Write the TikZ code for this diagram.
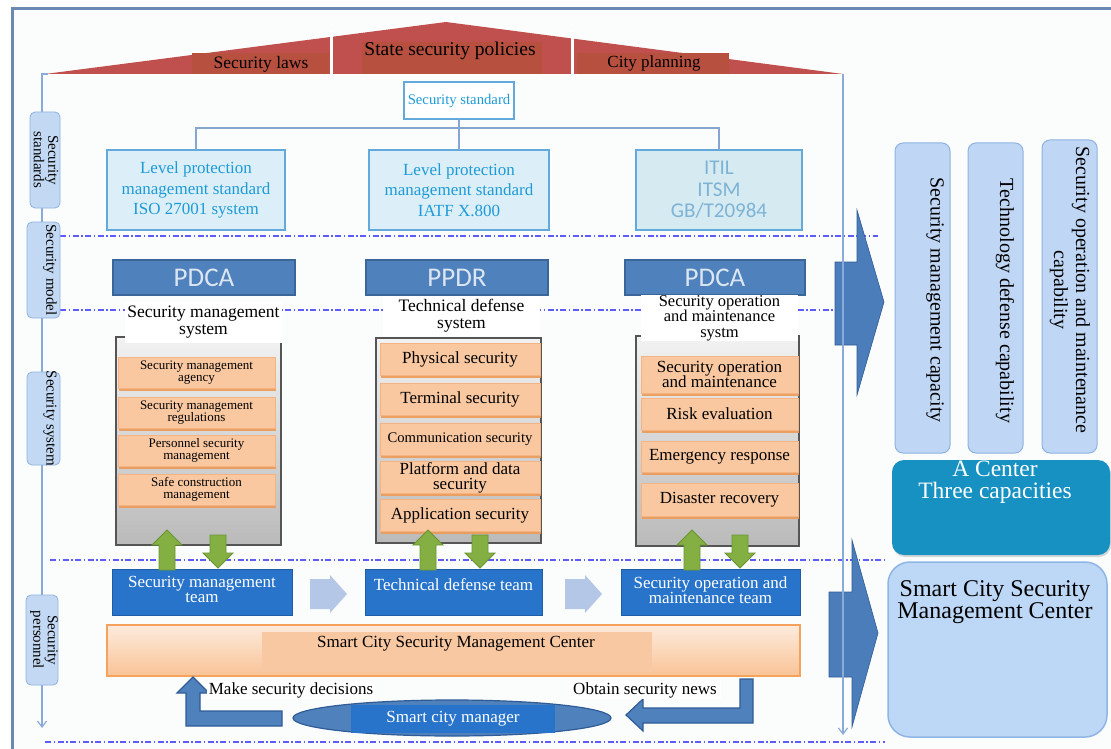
\documentclass[tikz,border=0pt]{standalone}
\usepackage{fontspec}
\setmainfont{Liberation Serif}
\newfontfamily\carlito{Carlito}
\usetikzlibrary{shapes.geometric,shadows,arrows.meta}
\newcommand\fsz[2]{\fontsize{#1}{#2}\selectfont}

\definecolor{pagebg}{HTML}{FBFCFC}
\definecolor{frameblue}{HTML}{6C89B2}
\definecolor{roofred}{HTML}{C0504D}
\definecolor{rooflbl}{HTML}{B8503F}
\definecolor{axisblue}{HTML}{8AAAD8}
\definecolor{tabblue}{HTML}{C3D9F3}
\definecolor{tabedge}{HTML}{8EB3E0}
\definecolor{dashblue}{HTML}{5D5DF5}
\definecolor{treeblue}{HTML}{86A5D0}
\definecolor{stdtext}{HTML}{1E9BD7}
\definecolor{stdfill}{HTML}{DCEFF9}
\definecolor{stdedge}{HTML}{63A9DB}
\definecolor{stdfillb}{HTML}{D6EAF2}
\definecolor{stdtextb}{HTML}{7DB3D5}
\definecolor{modelblue}{HTML}{4F81BD}
\definecolor{modeledge}{HTML}{3A6699}
\definecolor{modeltext}{HTML}{DCE6F2}
\definecolor{graybd}{HTML}{555555}
\definecolor{grayhi}{HTML}{F2F2F2}
\definecolor{graylo}{HTML}{BABABA}
\definecolor{peach}{HTML}{F9C8A1}
\definecolor{peachedge}{HTML}{F4B382}
\definecolor{peachshadow}{HTML}{EE9A55}
\definecolor{arrgreen}{HTML}{84B043}
\definecolor{arrgreenedge}{HTML}{6A9432}
\definecolor{teamblue}{HTML}{2874CB}
\definecolor{teamedge}{HTML}{1E5DA6}
\definecolor{chev}{HTML}{B4C7E6}
\definecolor{barhi}{HTML}{FDEBDD}
\definecolor{barlo}{HTML}{F9C396}
\definecolor{baredge}{HTML}{F5A25D}
\definecolor{barinner}{HTML}{F8C8A2}
\definecolor{bendedge}{HTML}{2F5C96}
\definecolor{bigblue}{HTML}{4A7DBA}
\definecolor{capfill}{HTML}{BFD7F5}
\definecolor{centerteal}{HTML}{1691C1}
\definecolor{scfill}{HTML}{BDD7F6}
\definecolor{scedge}{HTML}{8FB5E5}

\begin{document}
\begin{tikzpicture}[x=1pt,y=-1pt,
  every node/.style={inner sep=0pt, outer sep=0pt},
  ltab/.style={draw=tabedge, fill=tabblue, rounded corners=5pt, line width=0.8pt},
  tabtxt/.style={rotate=-90, align=center, font=\fsz{15}{11}},
  ddline/.style={draw=dashblue, line width=1.3pt, dash pattern=on 6pt off 2.5pt on 1.5pt off 2.5pt},
  tree/.style={draw=treeblue, line width=1.5pt},
  stdbox/.style={draw=stdedge, fill=stdfill, line width=1.5pt, align=center, text=stdtext, font=\fsz{17}{20.5}},
  modelbox/.style={fill=modelblue, draw=modeledge, line width=1.5pt, text=modeltext, font=\carlito\fsz{27}{27}, minimum height=35pt},
  graybox/.style={draw=graybd, line width=1.8pt, top color=grayhi, bottom color=graylo},
  titlebox/.style={fill=white, align=center, font=\fsz{17.5}{17}},
  item/.style={fill=peach, draw=peachedge, line width=0.6pt, align=center,
    drop shadow={shadow xshift=1pt, shadow yshift=-2.5pt, fill=peachshadow, opacity=0.9}},
  garrow/.style={fill=arrgreen, draw=arrgreenedge, line width=0.8pt},
  team/.style={fill=teamblue, draw=teamedge, line width=1pt, text=white, align=center, font=\fsz{17}{15}},
  chevron/.style={fill=chev},
  barrow/.style={fill=modelblue, draw=bendedge, line width=1.2pt},
  bigarrow/.style={fill=bigblue, draw=bendedge, line width=0.6pt},
  captab/.style={fill=capfill, draw=tabedge, rounded corners=8pt, line width=1pt},
  captxt/.style={rotate=-90, align=center, font=\fsz{20}{22}},
  pics/gup/.style={code={\filldraw[garrow] (-15,15) -- (0,0) -- (15,15) -- (8,15) -- (8,40) -- (-8,40) -- (-8,15) -- cycle;}},
  pics/gdown/.style={code={\filldraw[garrow] (-8,0) -- (8,0) -- (8,18) -- (15,18) -- (0,33) -- (-15,18) -- (-8,18) -- cycle;}},
]
\useasboundingbox (0,0) rectangle (1111,749);
\fill[white] (0,0) rectangle (1111,749);
\fill[pagebg] (12,9) rectangle (1111,749);
\draw[frameblue, line width=3pt] (12,749) -- (12,9) -- (1111,9);

% roof of policies
\fill[roofred] (45,74) -- (446,22) -- (843,74) -- cycle;
\draw[white, line width=3pt] (331,30) -- (331,75);
\draw[white, line width=3pt] (572,30) -- (572,75);
\fill[rooflbl] (192,53) rectangle (329,74);
\fill[rooflbl] (362,42) rectangle (542,74);
\fill[rooflbl] (577,53) rectangle (729,74);
\node[font=\fsz{17.5}{17.5}] (laws) at (261,64) {Security laws};
\node[font=\fsz{19.5}{19.5}] (policies) at (450,51) {State security policies};
\node[font=\fsz{17}{17}] (planning) at (654,63) {City planning};

% layer separators
\draw[ddline] (60,236) -- (878,236);
\draw[ddline] (60,310) -- (850,310);
\draw[ddline] (50,560) -- (887,560);
\draw[ddline] (45,742) -- (885,742);

% left axis
\draw[axisblue, line width=1.2pt, -{Straight Barb[length=6pt,width=9pt]}] (48,74) -- (42,74) -- (42,728);

% layer tabs
\node[ltab, minimum width=30pt, minimum height=96pt] (tabstd) at (45,160) {};
\node[tabtxt] (tabstdtxt) at (46,160) {Security\\standards};
\node[ltab, minimum width=33pt, minimum height=96pt] (tabmodel) at (43.5,270) {};
\node[tabtxt] (tabmodeltxt) at (50,270) {Security model};
\node[ltab, minimum width=33pt, minimum height=93pt] (tabsys) at (43.5,418.5) {};
\node[tabtxt] (tabsystxt) at (50,418.5) {Security system};
\node[ltab, minimum width=32pt, minimum height=90pt] (tabpers) at (42,640) {};
\node[tabtxt] (tabperstxt) at (44,640) {Security\\personnel};

% standards
\node[draw=stdedge, fill=white, line width=1.5pt, minimum width=110pt, minimum height=37pt,
  text=stdtext, font=\fsz{14.7}{16}] (ss) at (459,100.5) {Security standard};
\node[stdbox, minimum width=178pt, minimum height=80pt] (std1) at (196,190)
  {Level protection\\management standard\\ISO 27001 system};
\node[stdbox, minimum width=180pt, minimum height=80pt] (std2) at (459,190)
  {Level protection\\management standard\\IATF X.800};
\node[stdbox, fill=stdfillb, text=stdtextb, font=\carlito\fsz{21}{21.7}, minimum width=166pt, minimum height=80pt] (std3) at (719,190)
  {ITIL\\ITSM\\GB/T20984};
\coordinate (tj) at (459,128);
\draw[tree] (ss.south) -- (tj) -- (std2.north);
\draw[tree] (std1.north) |- (tj) -| (std3.north);

% models
\node[modelbox, minimum width=182pt] (m1) at (204,277.5) {PDCA};
\node[modelbox, minimum width=182pt] (m2) at (457,277.5) {PPDR};
\node[modelbox, minimum width=180pt] (m3) at (715,277.5) {PDCA};

% systems
\node[graybox, minimum width=165pt, minimum height=208pt] (g1) at (198.5,441) {};
\node[graybox, minimum width=165pt, minimum height=205pt] (g2) at (458.5,440.5) {};
\node[graybox, minimum width=163pt, minimum height=210pt] (g3) at (717.5,441) {};
\node[titlebox, minimum width=157pt, minimum height=41pt] (t1) at (203.5,322.5) {Security management\\system};
\node[titlebox, minimum width=157pt, minimum height=40pt] (t2) at (461.5,316) {Technical defense\\system};
\node[titlebox, font=\fsz{16.5}{15.5}, minimum width=157pt, minimum height=42pt] (t3) at (719.5,318) {Security operation\\and maintenance\\systm};

\begin{scope}[every node/.append style={item, minimum width=157pt, minimum height=31pt, font=\fsz{13}{12}}]
\node (a1) at (196.5,372.5) {Security management\\agency};
\node (a2) at (196.5,412.5) {Security management\\regulations};
\node (a3) at (196.5,450.5) {Personnel security\\management};
\node (a4) at (196.5,489.5) {Safe construction\\management};
\end{scope}
\begin{scope}[every node/.append style={item, minimum width=160pt, minimum height=32pt, font=\fsz{17}{15}}]
\node (b1) at (460,359) {Physical security};
\node (b2) at (460,399.5) {Terminal security};
\node[font=\fsz{14.7}{14}] (b3) at (460,439) {Communication security};
\node (b4) at (460,477.5) {Platform and data\\security};
\node (b5) at (460,515.5) {Application security};
\end{scope}
\begin{scope}[every node/.append style={item, minimum width=157pt, font=\fsz{17}{15.7}}]
\node[minimum height=37pt] (c1) at (719.5,374.5) {Security operation\\and maintenance};
\node[minimum height=32pt] (c2) at (719.5,414) {Risk evaluation};
\node[minimum height=31pt] (c3) at (719.5,456.5) {Emergency response};
\node[minimum height=33pt] (c4) at (719.5,499.5) {Disaster recovery};
\end{scope}

% teams
\node[team, minimum width=180pt, minimum height=46pt] (team1) at (202,592) {Security management\\team\strut};
\node[team, minimum width=177pt, minimum height=46pt] (team2) at (453.5,592) {};
\node[text=white, font=\fsz{17}{15}] (team2txt) at (453.5,585) {Technical defense team};
\node[team, minimum width=179pt, minimum height=46pt] (team3) at (710.5,592) {Security operation and\\maintenance team\strut};
\fill[chevron] (310,579) -- (330,579) -- (330,575) -- (347,594) -- (330,613) -- (330,609) -- (310,609) -- cycle;
\fill[chevron] (565,579) -- (585,579) -- (585,575) -- (602,594) -- (585,613) -- (585,609) -- (565,609) -- cycle;

% exchange between systems and teams
\pic at (167,530) {gup};
\pic at (218,535) {gdown};
\pic at (428,530) {gup};
\pic at (480,535) {gdown};
\pic at (692,530) {gup};
\pic at (740,535) {gdown};

% management center bar
\node[draw=baredge, line width=1.5pt, top color=barhi, bottom color=barlo, minimum width=693pt, minimum height=51pt] (bar) at (453.5,650.5) {};
\node[fill=barinner, minimum width=390pt, minimum height=40pt] (barin) at (457,652) {};
\node[font=\fsz{17}{17}] (bartxt) at (456,644) {Smart City Security Management Center};

% manager loop
\node[ellipse, fill=modelblue, draw=bendedge, line width=1.2pt, minimum width=318pt, minimum height=36pt] (mgr) at (452,718) {};
\node[fill=teamblue, minimum width=204pt, minimum height=28pt, text=white, font=\fsz{17}{17}] (mgrtxt) at (453,719) {Smart city manager};
\filldraw[barrow] (282,711) -- (200,711) -- (200,693) -- (209,693) -- (193,677) -- (177,693) -- (186,693) -- (186,726) -- (282,726) -- cycle;
\filldraw[barrow] (740,679) -- (753,679) -- (753,723) -- (643,723) -- (643,731) -- (626,715) -- (643,699) -- (643,708) -- (740,708) -- cycle;
\node[fill=white, inner xsep=2pt, inner ysep=1pt, font=\fsz{17}{17}] (dec) at (291,690) {Make security decisions};
\node[fill=white, inner xsep=4pt, inner ysep=1pt, font=\fsz{17}{17}] (news) at (645,690) {Obtain security news};

% outcome arrows
\filldraw[bigarrow] (835,262) -- (857,262) -- (857,210) -- (884,302) -- (857,395) -- (857,345) -- (835,345) -- cycle;
\filldraw[bigarrow] (829,592) -- (852,592) -- (852,540) -- (878,633) -- (852,727) -- (852,677) -- (829,677) -- cycle;
\draw[axisblue, line width=1.2pt, -{Straight Barb[length=6pt,width=9pt]}] (843,74) -- (843,735);

% capabilities
\node[captab, minimum width=55pt, minimum height=310pt] (cap1) at (922.5,298) {};
\node[captxt] (cap1txt) at (935,300) {Security management capacity};
\node[captab, minimum width=55pt, minimum height=310pt] (cap2) at (995.5,298) {};
\node[captxt] (cap2txt) at (1005,301) {Technology defense capability};
\node[captab, minimum width=55pt, minimum height=313pt] (cap3) at (1069.5,296.5) {};
\node[captxt] (cap3txt) at (1070,290) {Security operation and maintenance\\capability};

\node[fill=centerteal, rounded corners=12pt, minimum width=218pt, minimum height=95pt,
  drop shadow={shadow xshift=1pt, shadow yshift=-2pt, opacity=0.3}] (acenter) at (1001,507.5) {};
\node[text=white, align=center, font=\fsz{23.5}{21.7}] (acentertxt) at (995,482) {A Center\\Three capacities};

\node[fill=scfill, draw=scedge, line width=1.5pt, rounded corners=22pt, minimum width=219pt, minimum height=175pt] (sc) at (997.5,649.5) {};
\node[align=center, font=\fsz{24}{20.7}] (sctxt) at (995,602) {Smart City Security\\Management Center};
\end{tikzpicture}
\end{document}
